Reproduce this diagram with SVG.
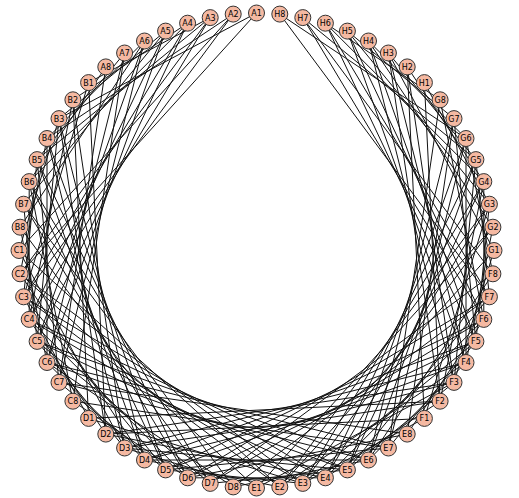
<svg xmlns="http://www.w3.org/2000/svg" width="519" height="498" viewBox="0 0 519 498">
<style>
.e path{stroke:#111;stroke-width:1;fill:none}
.n circle{fill:#f5b9a2;stroke:#333;stroke-width:1}
.n text{font-family:"DejaVu Sans","Liberation Sans",sans-serif;font-size:8px;fill:#000;text-anchor:middle}
</style>
<rect width="519" height="498" fill="#fff"/>
<g id="connectors" class="e">
<path d="M256.5 13L59 118.6"/><path d="M256.5 13L20.1 273.8"/>
<path d="M233.2 14.1L47 138.5"/><path d="M233.2 14.1L19 250.5"/><path d="M233.2 14.1L23.6 296.8"/>
<path d="M210.2 17.6L88.6 82.6"/><path d="M210.2 17.6L37.1 159.6"/><path d="M210.2 17.6L20.1 273.8"/><path d="M210.2 17.6L29.2 319.4"/>
<path d="M187.6 23.2L72.9 99.8"/><path d="M187.6 23.2L29.2 181.6"/><path d="M187.6 23.2L23.6 296.8"/><path d="M187.6 23.2L37.1 341.4"/>
<path d="M165.6 31.1L59 118.6"/><path d="M165.6 31.1L23.6 204.2"/><path d="M165.6 31.1L29.2 319.4"/><path d="M165.6 31.1L47 362.5"/>
<path d="M144.5 41L47 138.5"/><path d="M144.5 41L20.1 227.2"/><path d="M144.5 41L37.1 341.4"/><path d="M144.5 41L59 382.4"/>
<path d="M124.6 53L37.1 159.6"/><path d="M124.6 53L47 362.5"/><path d="M124.6 53L72.9 401.2"/>
<path d="M105.8 66.9L29.2 181.6"/><path d="M105.8 66.9L59 382.4"/>
<path d="M88.6 82.6L23.6 296.8"/><path d="M88.6 82.6L105.8 434.1"/>
<path d="M72.9 99.8L29.2 319.4"/><path d="M72.9 99.8L88.6 418.4"/><path d="M72.9 99.8L124.6 448"/>
<path d="M59 118.6L19 250.5"/><path d="M59 118.6L37.1 341.4"/><path d="M59 118.6L105.8 434.1"/><path d="M59 118.6L144.5 460"/>
<path d="M47 138.5L20.1 273.8"/><path d="M47 138.5L47 362.5"/><path d="M47 138.5L124.6 448"/><path d="M47 138.5L165.6 469.9"/>
<path d="M37.1 159.6L23.6 296.8"/><path d="M37.1 159.6L59 382.4"/><path d="M37.1 159.6L144.5 460"/><path d="M37.1 159.6L187.6 477.8"/>
<path d="M29.2 181.6L29.2 319.4"/><path d="M29.2 181.6L72.9 401.2"/><path d="M29.2 181.6L165.6 469.9"/><path d="M29.2 181.6L210.2 483.4"/>
<path d="M23.6 204.2L37.1 341.4"/><path d="M23.6 204.2L187.6 477.8"/><path d="M23.6 204.2L233.2 486.9"/>
<path d="M20.1 227.2L47 362.5"/><path d="M20.1 227.2L210.2 483.4"/>
<path d="M19 250.5L124.6 448"/><path d="M19 250.5L279.8 486.9"/>
<path d="M20.1 273.8L144.5 460"/><path d="M20.1 273.8L256.5 488"/><path d="M20.1 273.8L302.8 483.4"/>
<path d="M23.6 296.8L88.6 418.4"/><path d="M23.6 296.8L165.6 469.9"/><path d="M23.6 296.8L279.8 486.9"/><path d="M23.6 296.8L325.4 477.8"/>
<path d="M29.2 319.4L105.8 434.1"/><path d="M29.2 319.4L187.6 477.8"/><path d="M29.2 319.4L302.8 483.4"/><path d="M29.2 319.4L347.4 469.9"/>
<path d="M37.1 341.4L124.6 448"/><path d="M37.1 341.4L210.2 483.4"/><path d="M37.1 341.4L325.4 477.8"/><path d="M37.1 341.4L368.5 460"/>
<path d="M47 362.5L144.5 460"/><path d="M47 362.5L233.2 486.9"/><path d="M47 362.5L347.4 469.9"/><path d="M47 362.5L388.4 448"/>
<path d="M59 382.4L165.6 469.9"/><path d="M59 382.4L368.5 460"/><path d="M59 382.4L407.2 434.1"/>
<path d="M72.9 401.2L187.6 477.8"/><path d="M72.9 401.2L388.4 448"/>
<path d="M88.6 418.4L302.8 483.4"/><path d="M88.6 418.4L440.1 401.2"/>
<path d="M105.8 434.1L325.4 477.8"/><path d="M105.8 434.1L424.4 418.4"/><path d="M105.8 434.1L454 382.4"/>
<path d="M124.6 448L256.5 488"/><path d="M124.6 448L347.4 469.9"/><path d="M124.6 448L440.1 401.2"/><path d="M124.6 448L466 362.5"/>
<path d="M144.5 460L279.8 486.9"/><path d="M144.5 460L368.5 460"/><path d="M144.5 460L454 382.4"/><path d="M144.5 460L475.9 341.4"/>
<path d="M165.6 469.9L302.8 483.4"/><path d="M165.6 469.9L388.4 448"/><path d="M165.6 469.9L466 362.5"/><path d="M165.6 469.9L483.8 319.4"/>
<path d="M187.6 477.8L325.4 477.8"/><path d="M187.6 477.8L407.2 434.1"/><path d="M187.6 477.8L475.9 341.4"/><path d="M187.6 477.8L489.4 296.8"/>
<path d="M210.2 483.4L347.4 469.9"/><path d="M210.2 483.4L483.8 319.4"/><path d="M210.2 483.4L492.9 273.8"/>
<path d="M233.2 486.9L368.5 460"/><path d="M233.2 486.9L489.4 296.8"/>
<path d="M256.5 488L454 382.4"/><path d="M256.5 488L492.9 227.2"/>
<path d="M279.8 486.9L466 362.5"/><path d="M279.8 486.9L494 250.5"/><path d="M279.8 486.9L489.4 204.2"/>
<path d="M302.8 483.4L424.4 418.4"/><path d="M302.8 483.4L475.9 341.4"/><path d="M302.8 483.4L492.9 227.2"/><path d="M302.8 483.4L483.8 181.6"/>
<path d="M325.4 477.8L440.1 401.2"/><path d="M325.4 477.8L483.8 319.4"/><path d="M325.4 477.8L489.4 204.2"/><path d="M325.4 477.8L475.9 159.6"/>
<path d="M347.4 469.9L454 382.4"/><path d="M347.4 469.9L489.4 296.8"/><path d="M347.4 469.9L483.8 181.6"/><path d="M347.4 469.9L466 138.5"/>
<path d="M368.5 460L466 362.5"/><path d="M368.5 460L492.9 273.8"/><path d="M368.5 460L475.9 159.6"/><path d="M368.5 460L454 118.6"/>
<path d="M388.4 448L475.9 341.4"/><path d="M388.4 448L466 138.5"/><path d="M388.4 448L440.1 99.8"/>
<path d="M407.2 434.1L483.8 319.4"/><path d="M407.2 434.1L454 118.6"/>
<path d="M424.4 418.4L489.4 204.2"/><path d="M424.4 418.4L407.2 66.9"/>
<path d="M440.1 401.2L483.8 181.6"/><path d="M440.1 401.2L424.4 82.6"/><path d="M440.1 401.2L388.4 53"/>
<path d="M454 382.4L494 250.5"/><path d="M454 382.4L475.9 159.6"/><path d="M454 382.4L407.2 66.9"/><path d="M454 382.4L368.5 41"/>
<path d="M466 362.5L492.9 227.2"/><path d="M466 362.5L466 138.5"/><path d="M466 362.5L388.4 53"/><path d="M466 362.5L347.4 31.1"/>
<path d="M475.9 341.4L489.4 204.2"/><path d="M475.9 341.4L454 118.6"/><path d="M475.9 341.4L368.5 41"/><path d="M475.9 341.4L325.4 23.2"/>
<path d="M483.8 319.4L483.8 181.6"/><path d="M483.8 319.4L440.1 99.8"/><path d="M483.8 319.4L347.4 31.1"/><path d="M483.8 319.4L302.8 17.6"/>
<path d="M489.4 296.8L475.9 159.6"/><path d="M489.4 296.8L325.4 23.2"/><path d="M489.4 296.8L279.8 14.1"/>
<path d="M492.9 273.8L466 138.5"/><path d="M492.9 273.8L302.8 17.6"/>
<path d="M494 250.5L388.4 53"/>
<path d="M492.9 227.2L368.5 41"/>
<path d="M489.4 204.2L424.4 82.6"/><path d="M489.4 204.2L347.4 31.1"/>
<path d="M483.8 181.6L407.2 66.9"/><path d="M483.8 181.6L325.4 23.2"/>
<path d="M475.9 159.6L388.4 53"/><path d="M475.9 159.6L302.8 17.6"/>
<path d="M466 138.5L368.5 41"/><path d="M466 138.5L279.8 14.1"/>
<path d="M454 118.6L347.4 31.1"/>
<path d="M440.1 99.8L325.4 23.2"/>
</g>
<g class="n">
<g id="A1" transform="translate(256.5,13)"><circle r="8"/><text y="2.9">A1</text></g>
<g id="A2" transform="translate(233.2,14.1)"><circle r="8"/><text y="2.9">A2</text></g>
<g id="A3" transform="translate(210.2,17.6)"><circle r="8"/><text y="2.9">A3</text></g>
<g id="A4" transform="translate(187.6,23.2)"><circle r="8"/><text y="2.9">A4</text></g>
<g id="A5" transform="translate(165.6,31.1)"><circle r="8"/><text y="2.9">A5</text></g>
<g id="A6" transform="translate(144.5,41)"><circle r="8"/><text y="2.9">A6</text></g>
<g id="A7" transform="translate(124.6,53)"><circle r="8"/><text y="2.9">A7</text></g>
<g id="A8" transform="translate(105.8,66.9)"><circle r="8"/><text y="2.9">A8</text></g>
<g id="B1" transform="translate(88.6,82.6)"><circle r="8"/><text y="2.9">B1</text></g>
<g id="B2" transform="translate(72.9,99.8)"><circle r="8"/><text y="2.9">B2</text></g>
<g id="B3" transform="translate(59,118.6)"><circle r="8"/><text y="2.9">B3</text></g>
<g id="B4" transform="translate(47,138.5)"><circle r="8"/><text y="2.9">B4</text></g>
<g id="B5" transform="translate(37.1,159.6)"><circle r="8"/><text y="2.9">B5</text></g>
<g id="B6" transform="translate(29.2,181.6)"><circle r="8"/><text y="2.9">B6</text></g>
<g id="B7" transform="translate(23.6,204.2)"><circle r="8"/><text y="2.9">B7</text></g>
<g id="B8" transform="translate(20.1,227.2)"><circle r="8"/><text y="2.9">B8</text></g>
<g id="C1" transform="translate(19,250.5)"><circle r="8"/><text y="2.9">C1</text></g>
<g id="C2" transform="translate(20.1,273.8)"><circle r="8"/><text y="2.9">C2</text></g>
<g id="C3" transform="translate(23.6,296.8)"><circle r="8"/><text y="2.9">C3</text></g>
<g id="C4" transform="translate(29.2,319.4)"><circle r="8"/><text y="2.9">C4</text></g>
<g id="C5" transform="translate(37.1,341.4)"><circle r="8"/><text y="2.9">C5</text></g>
<g id="C6" transform="translate(47,362.5)"><circle r="8"/><text y="2.9">C6</text></g>
<g id="C7" transform="translate(59,382.4)"><circle r="8"/><text y="2.9">C7</text></g>
<g id="C8" transform="translate(72.9,401.2)"><circle r="8"/><text y="2.9">C8</text></g>
<g id="D1" transform="translate(88.6,418.4)"><circle r="8"/><text y="2.9">D1</text></g>
<g id="D2" transform="translate(105.8,434.1)"><circle r="8"/><text y="2.9">D2</text></g>
<g id="D3" transform="translate(124.6,448)"><circle r="8"/><text y="2.9">D3</text></g>
<g id="D4" transform="translate(144.5,460)"><circle r="8"/><text y="2.9">D4</text></g>
<g id="D5" transform="translate(165.6,469.9)"><circle r="8"/><text y="2.9">D5</text></g>
<g id="D6" transform="translate(187.6,477.8)"><circle r="8"/><text y="2.9">D6</text></g>
<g id="D7" transform="translate(210.2,483.4)"><circle r="8"/><text y="2.9">D7</text></g>
<g id="D8" transform="translate(233.2,486.9)"><circle r="8"/><text y="2.9">D8</text></g>
<g id="E1" transform="translate(256.5,488)"><circle r="8"/><text y="2.9">E1</text></g>
<g id="E2" transform="translate(279.8,486.9)"><circle r="8"/><text y="2.9">E2</text></g>
<g id="E3" transform="translate(302.8,483.4)"><circle r="8"/><text y="2.9">E3</text></g>
<g id="E4" transform="translate(325.4,477.8)"><circle r="8"/><text y="2.9">E4</text></g>
<g id="E5" transform="translate(347.4,469.9)"><circle r="8"/><text y="2.9">E5</text></g>
<g id="E6" transform="translate(368.5,460)"><circle r="8"/><text y="2.9">E6</text></g>
<g id="E7" transform="translate(388.4,448)"><circle r="8"/><text y="2.9">E7</text></g>
<g id="E8" transform="translate(407.2,434.1)"><circle r="8"/><text y="2.9">E8</text></g>
<g id="F1" transform="translate(424.4,418.4)"><circle r="8"/><text y="2.9">F1</text></g>
<g id="F2" transform="translate(440.1,401.2)"><circle r="8"/><text y="2.9">F2</text></g>
<g id="F3" transform="translate(454,382.4)"><circle r="8"/><text y="2.9">F3</text></g>
<g id="F4" transform="translate(466,362.5)"><circle r="8"/><text y="2.9">F4</text></g>
<g id="F5" transform="translate(475.9,341.4)"><circle r="8"/><text y="2.9">F5</text></g>
<g id="F6" transform="translate(483.8,319.4)"><circle r="8"/><text y="2.9">F6</text></g>
<g id="F7" transform="translate(489.4,296.8)"><circle r="8"/><text y="2.9">F7</text></g>
<g id="F8" transform="translate(492.9,273.8)"><circle r="8"/><text y="2.9">F8</text></g>
<g id="G1" transform="translate(494,250.5)"><circle r="8"/><text y="2.9">G1</text></g>
<g id="G2" transform="translate(492.9,227.2)"><circle r="8"/><text y="2.9">G2</text></g>
<g id="G3" transform="translate(489.4,204.2)"><circle r="8"/><text y="2.9">G3</text></g>
<g id="G4" transform="translate(483.8,181.6)"><circle r="8"/><text y="2.9">G4</text></g>
<g id="G5" transform="translate(475.9,159.6)"><circle r="8"/><text y="2.9">G5</text></g>
<g id="G6" transform="translate(466,138.5)"><circle r="8"/><text y="2.9">G6</text></g>
<g id="G7" transform="translate(454,118.6)"><circle r="8"/><text y="2.9">G7</text></g>
<g id="G8" transform="translate(440.1,99.8)"><circle r="8"/><text y="2.9">G8</text></g>
<g id="H1" transform="translate(424.4,82.6)"><circle r="8"/><text y="2.9">H1</text></g>
<g id="H2" transform="translate(407.2,66.9)"><circle r="8"/><text y="2.9">H2</text></g>
<g id="H3" transform="translate(388.4,53)"><circle r="8"/><text y="2.9">H3</text></g>
<g id="H4" transform="translate(368.5,41)"><circle r="8"/><text y="2.9">H4</text></g>
<g id="H5" transform="translate(347.4,31.1)"><circle r="8"/><text y="2.9">H5</text></g>
<g id="H6" transform="translate(325.4,23.2)"><circle r="8"/><text y="2.9">H6</text></g>
<g id="H7" transform="translate(302.8,17.6)"><circle r="8"/><text y="2.9">H7</text></g>
<g id="H8" transform="translate(279.8,14.1)"><circle r="8"/><text y="2.9">H8</text></g>
</g>
</svg>
